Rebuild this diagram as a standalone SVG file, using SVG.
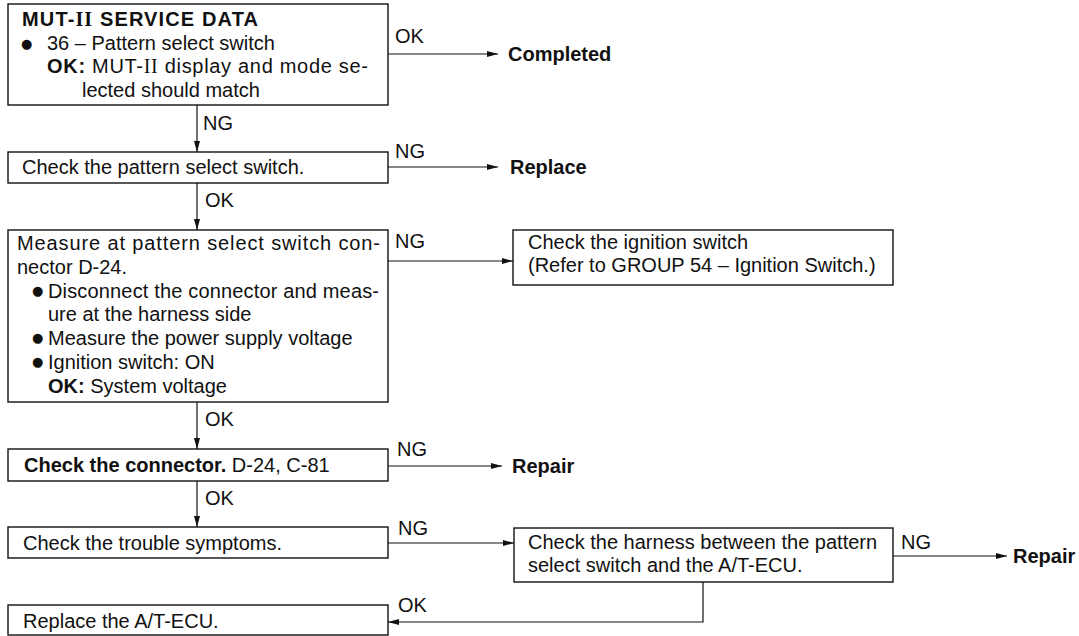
<svg xmlns="http://www.w3.org/2000/svg" width="1079" height="636" viewBox="0 0 1079 636">
<style>
text{font-family:"Liberation Sans",Arial,sans-serif;font-size:20px;fill:#111}
.b{font-weight:bold}
.r{font-family:"Liberation Serif","Times New Roman",serif}
.bul{font-family:"DejaVu Sans",sans-serif;font-size:13px}
.box{fill:#fff;stroke:#111;stroke-width:1.4}
.c{fill:none;stroke:#111;stroke-width:1.2}
</style>
<defs>
<marker id="ah" markerUnits="userSpaceOnUse" markerWidth="11" markerHeight="6" refX="11" refY="3" orient="auto">
<path d="M0,0 L11,3 L0,6 z" fill="#111"/>
</marker>
</defs>
<rect width="1079" height="636" fill="#fff"/>

<g id="connectors">
<line class="c" x1="388" y1="54" x2="498" y2="54" marker-end="url(#ah)"/>
<line class="c" x1="197" y1="105" x2="197" y2="152" marker-end="url(#ah)"/>
<line class="c" x1="388" y1="167" x2="498" y2="167" marker-end="url(#ah)"/>
<line class="c" x1="197" y1="183" x2="197" y2="230" marker-end="url(#ah)"/>
<line class="c" x1="388" y1="261" x2="513" y2="261" marker-end="url(#ah)"/>
<line class="c" x1="197" y1="402" x2="197" y2="449" marker-end="url(#ah)"/>
<line class="c" x1="388" y1="466" x2="502" y2="466" marker-end="url(#ah)"/>
<line class="c" x1="197" y1="481" x2="197" y2="527" marker-end="url(#ah)"/>
<line class="c" x1="388" y1="543" x2="514" y2="543" marker-end="url(#ah)"/>
<line class="c" x1="893" y1="556" x2="1007" y2="556" marker-end="url(#ah)"/>
<polyline class="c" points="703,582 703,622 388,622" marker-end="url(#ah)"/>
<text x="395" y="43">OK</text>
<text x="203" y="130">NG</text>
<text x="395" y="158">NG</text>
<text x="205" y="207">OK</text>
<text x="395" y="248">NG</text>
<text x="205" y="426">OK</text>
<text x="397" y="456">NG</text>
<text x="205" y="505">OK</text>
<text x="398" y="535">NG</text>
<text x="901" y="549">NG</text>
<text x="398" y="612">OK</text>
</g>

<g id="n1">
<rect class="box" x="8" y="4" width="380" height="101"/>
<text class="b" x="22" y="26" textLength="236">MUT-<tspan class="r">II</tspan> SERVICE DATA</text>
<text class="bul" x="21" y="48">●</text>
<text x="47" y="50">36 – Pattern select switch</text>
<text x="47" y="73" textLength="321"><tspan class="b">OK:</tspan> MUT-<tspan class="r">II</tspan> display and mode se-</text>
<text x="82" y="97">lected should match</text>
</g>

<g id="n_completed"><text class="b" x="508" y="61">Completed</text></g>

<g id="n2">
<rect class="box" x="8" y="152" width="380" height="31"/>
<text x="22" y="174">Check the pattern select switch.</text>
</g>

<g id="n_replace"><text class="b" x="510" y="174">Replace</text></g>

<g id="n3">
<rect class="box" x="8" y="230" width="380" height="172"/>
<text x="17" y="250" textLength="363">Measure at pattern select switch con-</text>
<text x="17" y="274">nector D-24.</text>
<text class="bul" x="32" y="295">●</text>
<text x="48" y="298" textLength="331">Disconnect the connector and meas-</text>
<text x="48" y="321">ure at the harness side</text>
<text class="bul" x="32" y="342">●</text>
<text x="48" y="345">Measure the power supply voltage</text>
<text class="bul" x="32" y="366">●</text>
<text x="48" y="369">Ignition switch: ON</text>
<text x="48" y="393"><tspan class="b">OK:</tspan> System voltage</text>
</g>

<g id="n4">
<rect class="box" x="513" y="230" width="380" height="55"/>
<text x="528" y="249">Check the ignition switch</text>
<text x="528" y="272">(Refer to GROUP 54 – Ignition Switch.)</text>
</g>

<g id="n5">
<rect class="box" x="8" y="449" width="380" height="32"/>
<text x="24" y="472"><tspan class="b">Check the connector.</tspan> D-24, C-81</text>
</g>

<g id="n_repair1"><text class="b" x="512" y="473">Repair</text></g>

<g id="n6">
<rect class="box" x="8" y="527" width="380" height="31"/>
<text x="23" y="550">Check the trouble symptoms.</text>
</g>

<g id="n7">
<rect class="box" x="514" y="528" width="379" height="54"/>
<text x="528" y="549">Check the harness between the pattern</text>
<text x="528" y="572">select switch and the A/T-ECU.</text>
</g>

<g id="n_repair2"><text class="b" x="1013" y="563">Repair</text></g>

<g id="n8">
<rect class="box" x="8" y="605" width="380" height="30"/>
<text x="23" y="628">Replace the A/T-ECU.</text>
</g>
</svg>
